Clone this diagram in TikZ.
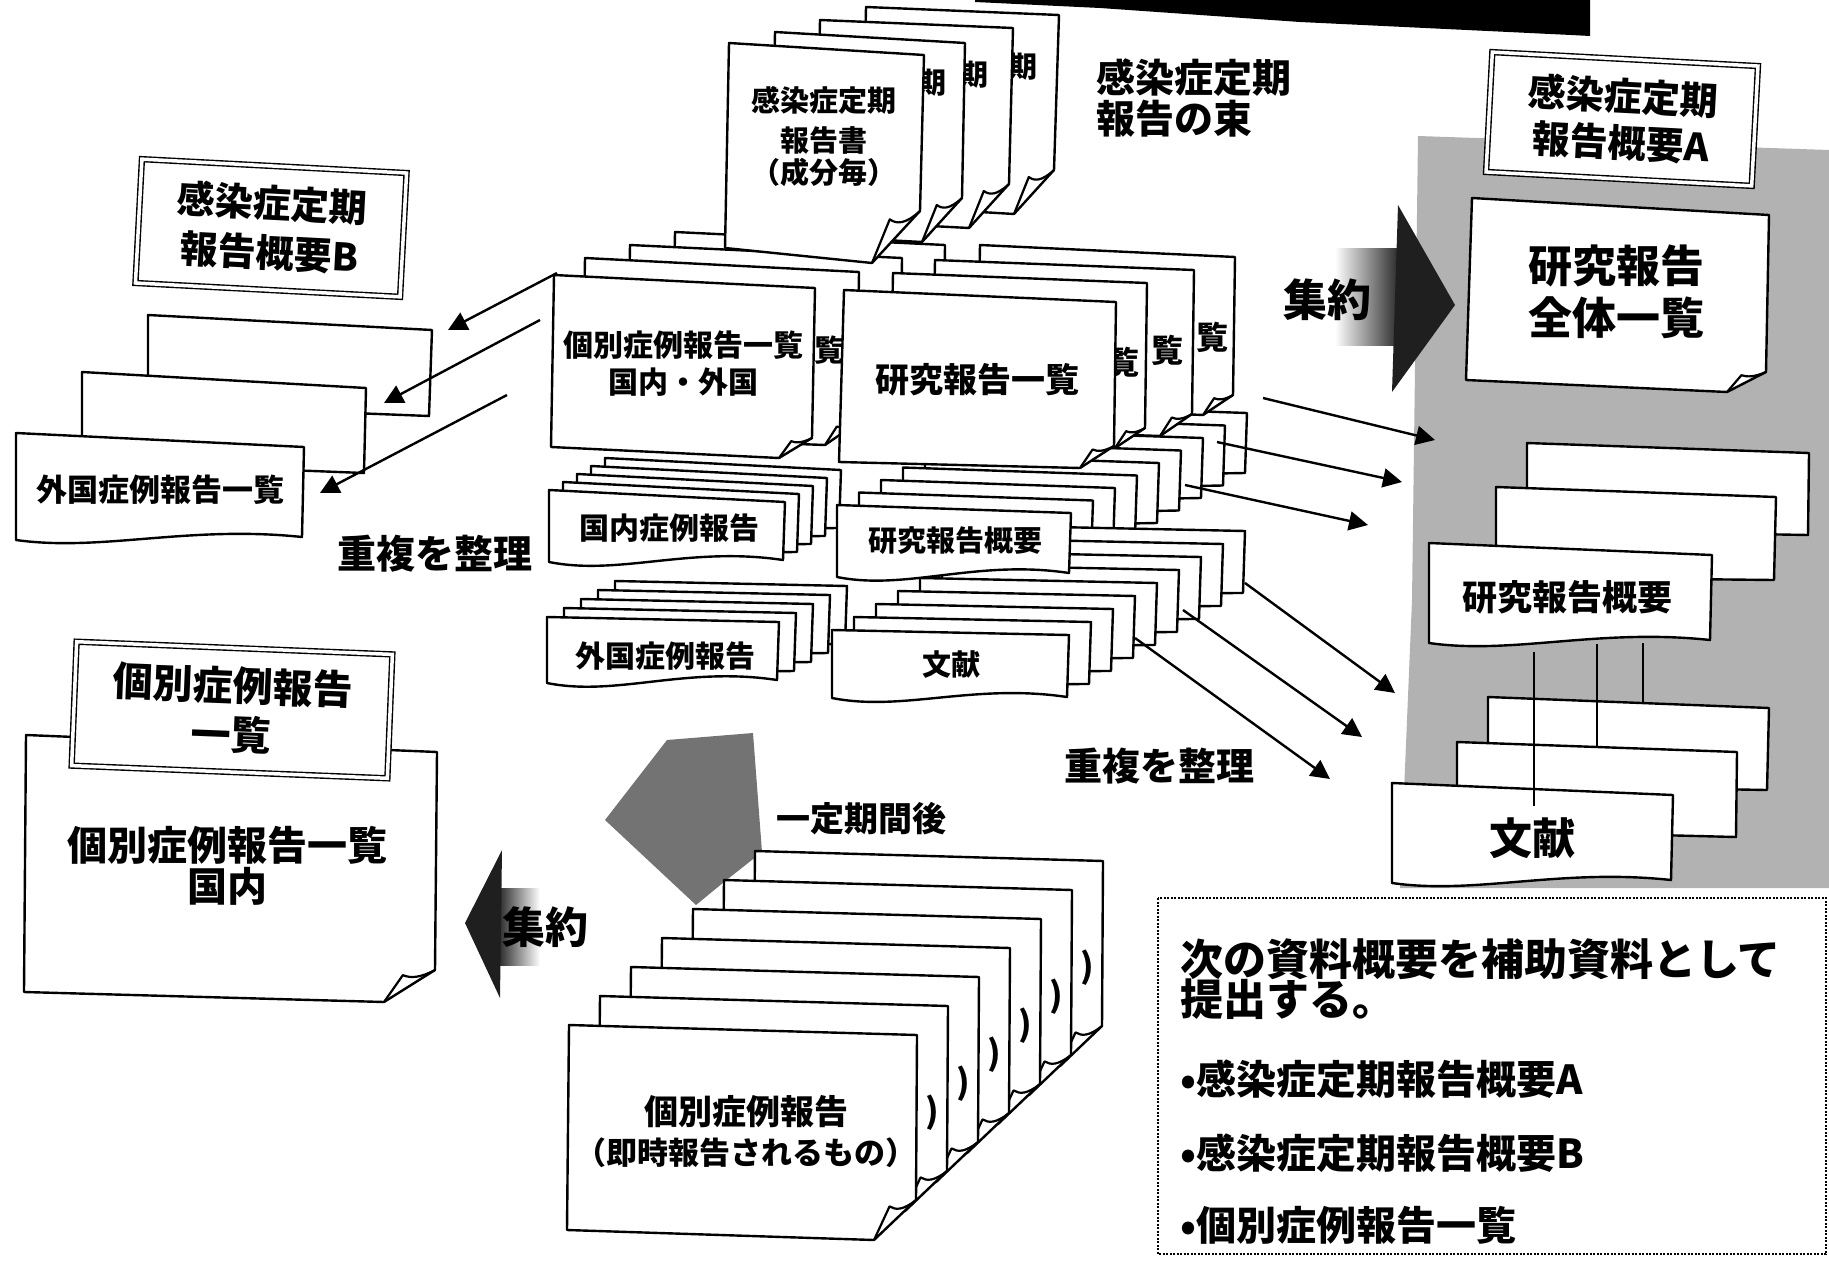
\documentclass[tikz,border=0pt]{standalone}
\usepackage{fontspec}
\setmainfont{Noto Sans CJK JP}
\usetikzlibrary{arrows.meta,calc}
\tikzset{
 pg/.style={draw=black,fill=white,line width=2.4pt,line join=round},
 flap/.style={draw=black,line width=2.2pt,line join=round},
 arr/.style={line width=2.4pt,-{Triangle[length=19pt,width=19pt]}},
 lbl/.style={font=\bfseries\fontsize{#1pt}{#1pt}\selectfont,inner sep=0pt},
 dbox/.style={draw=black,line width=1.4pt,double=white,double distance=3.5pt,fill=white,inner sep=0pt,align=center},
}
\newcommand{\dogpage}[6]{%
 \path (#3) ++(0,-#6) coordinate (dpa);
 \path (#3) ++(-#5,0) coordinate (dpb);
 \path (#3) ++(-0.63*#5,-0.84*#6) coordinate (dpq);
 \filldraw[pg] (#1) -- (#2) -- (dpa) -- (dpb) -- (#4) -- cycle;
 \draw[flap] (dpa) .. controls +(-0.3*#5,0.25*#6) and +(0.15*#5,0.1*#6) .. (dpq) -- (dpb);}
\newcommand{\wavepage}[6]{%
 \filldraw[pg] (#1) -- (#2) -- (#3) .. controls +(-0.4*#5,-#6) and +(0.3*#5,#6) .. (#4) -- cycle;}
\newcommand{\quadpage}[4]{\filldraw[pg] (#1) -- (#2) -- (#3) -- (#4) -- cycle;}
\begin{document}
\begin{tikzpicture}[x=1pt,y=-1pt]
\useasboundingbox (0,0) rectangle (1829,1266);
% grey background of A
\fill[black!30] (1418,136) -- (1829,150) -- (1829,888) -- (1400,888) -- (1412,600) -- cycle;
% top black bar
\fill[black] (975,0) -- (1590,0) -- (1590,36) -- (1571,35) -- (1300,22) -- (1100,8) -- (975,2) -- cycle;
% hatched arrow
\fill[black!55] (605,820) -- (667,740) -- (753,733) -- (762,852) -- (724,882) -- (696,905) -- cycle;

% ---- small stacks ----
\foreach \k in {4,3,2,1}{\begin{scope}[shift={(14*\k,-8*\k)}]
 \quadpage{549,490}{785,502}{783,560}{549,562}\end{scope}}
\wavepage{549,490}{785,502}{783,560}{549,562}{234}{14}
\node[lbl=30] (kokunai) at (669,528) {国内症例報告};

\foreach \k in {4,3,2,1}{\begin{scope}[shift={(17*\k,-9*\k)}]
 \quadpage{547,617}{779,622}{777,680}{547,683}\end{scope}}
\wavepage{547,617}{779,622}{777,680}{547,683}{230}{14}
\node[lbl=30] (gaikoku) at (665,656) {外国症例報告};

\foreach \k in {8,7,...,1}{\begin{scope}[shift={(22*\k,-12.5*\k)}]
 \quadpage{837,505}{1071,513}{1069,573}{837,577}\end{scope}}
\foreach \k in {8,7,...,1}{\begin{scope}[shift={(22*\k,-13*\k)}]
 \quadpage{832,630}{1069,635}{1067,697}{832,698}\end{scope}}
\wavepage{837,505}{1071,513}{1069,573}{837,577}{232}{14}
\node[lbl=29] (kgaiyo) at (955,541) {研究報告概要};
\wavepage{832,630}{1069,635}{1067,697}{832,698}{235}{14}
\node[lbl=29] (bunken) at (951,665) {文献};

% ---- big stacks: back pages ----
\dogpage{675,232}{945,245}{943,420}{672,410}{32}{22}
\dogpage{630,245}{902,258}{900,432}{627,423}{32}{22}
\dogpage{585,258}{859,272}{857,445}{582,436}{32}{22}
\node[lbl=30] (kbk1) at (829,350) {覧};
\dogpage{980,245}{1235,257}{1233,415}{977,405}{30}{20}
\node[lbl=32] (kk3) at (1212,337) {覧};
\dogpage{935,260}{1194,270}{1192,436}{932,428}{32}{22}
\node[lbl=32] (kk2) at (1167,350) {覧};
\dogpage{893,273}{1147,283}{1145,448}{890,440}{30}{20}
\node[lbl=32] (kk1) at (1123,362) {覧};

% ---- infection report bundle ----
\dogpage{866,7}{1059,15}{1054,214}{862,205}{40}{44}
\node[lbl=29] (ks4) at (1023,67) {期};
\dogpage{820,20}{1013,28}{1009,228}{816,220}{40}{44}
\node[lbl=29] (ks3) at (974,75) {期};
\dogpage{775,32}{965,43}{962,242}{771,234}{40}{44}
\node[lbl=29] (ks2) at (932,83) {期};
\dogpage{729,43}{924,55}{920,263}{725,248}{48}{52}
\node[lbl=29] (ks1a) at (824,100) {感染症定期};
\node[lbl=29] (ks1b) at (824,140) {報告書};
\node[lbl=29] (ks1c) at (824,172) {（成分毎）};
\node[lbl=39,anchor=west] (tabA) at (1096,78) {感染症定期};
\node[lbl=39,anchor=west] (tabB) at (1096,119) {報告の束};

% ---- big stacks: front pages ----
\dogpage{554,275}{815,288}{812,458}{551,447}{33}{20}
\node[lbl=30] (kbA) at (683,345) {個別症例報告一覧};
\node[lbl=30] (kbB) at (683,382) {国内・外国};
\dogpage{844,290}{1116,302}{1114,468}{839,462}{34}{22}
\node[lbl=34] (kkA) at (977,380) {研究報告一覧};

% ---- B summary ----
\node[dbox,minimum width=265pt,minimum height=124pt,rotate=-3,font=\bfseries\fontsize{38pt}{50pt}\selectfont] (boxB) at (271,228) {感染症定期\\報告概要B};
\quadpage{148,315}{432,330}{429,416}{148,405}
\quadpage{82,372}{366,388}{364,473}{82,462}
\wavepage{16,433}{304,447}{302,537}{16,540}{286}{12}
\node[lbl=31] (gkl) at (160,490) {外国症例報告一覧};
\node[lbl=39] (choufuku1) at (435,554) {重複を整理};

% arrows to B
\coordinate (a1s) at (557,273); \coordinate (a1e) at (448,330);
\coordinate (a2s) at (540,320); \coordinate (a2e) at (384,403);
\coordinate (a3s) at (507,395); \coordinate (a3e) at (320,493);
\draw[arr] (a1s) -- (a1e);
\draw[arr] (a2s) -- (a2e);
\draw[arr] (a3s) -- (a3e);

% ---- A summary ----
\node[dbox,minimum width=266pt,minimum height=120pt,rotate=-3,font=\bfseries\fontsize{38pt}{47pt}\selectfont] (boxA) at (1622,119) {感染症定期\\報告概要A};
\dogpage{1472,198}{1769,215}{1766,392}{1466,380}{39}{20}
\node[lbl=44] (zenA) at (1616,266) {研究報告};
\node[lbl=44] (zenB) at (1616,318) {全体一覧};
\quadpage{1527,443}{1809,453}{1808,535}{1527,530}
\quadpage{1496,487}{1776,497}{1774,580}{1496,577}
\wavepage{1429,543}{1712,555}{1710,640}{1429,643}{281}{12}
\node[lbl=35] (agaiyo) at (1567,597) {研究報告概要};
\quadpage{1488,697}{1769,708}{1767,790}{1488,785}
\quadpage{1457,742}{1737,752}{1736,837}{1457,830}
\wavepage{1392,783}{1673,795}{1671,880}{1392,883}{279}{12}
\node[lbl=43] (abunken) at (1532,838) {文献};
\coordinate (l1s) at (1534,652); \coordinate (l1e) at (1534,806);
\coordinate (l2s) at (1597,644); \coordinate (l2e) at (1597,746);
\coordinate (l3s) at (1643,643); \coordinate (l3e) at (1643,703);
\draw[line width=2pt] (l1s) -- (l1e);
\draw[line width=2pt] (l2s) -- (l2e);
\draw[line width=2pt] (l3s) -- (l3e);

% right shuyaku arrow
\shade[left color=white,right color=black!85] (1335,248) rectangle (1400,345);
\fill[black!88] (1398,205) -- (1455,305) -- (1392,392) -- cycle;
\node[lbl=44] (shuyakuR) at (1327,300) {集約};

% arrows to A
\coordinate (r1s) at (1263,398); \coordinate (r1e) at (1435,440);
\coordinate (r2s) at (1217,442); \coordinate (r2e) at (1402,482);
\coordinate (r3s) at (1185,485); \coordinate (r3e) at (1368,525);
\coordinate (r4s) at (1245,583); \coordinate (r4e) at (1395,693);
\coordinate (r5s) at (1183,610); \coordinate (r5e) at (1362,737);
\coordinate (r6s) at (1135,638); \coordinate (r6e) at (1330,779);
\foreach \i in {1,...,6}{\draw[arr] (r\i s) -- (r\i e);}
\node[lbl=38] (choufuku2) at (1159,766) {重複を整理};

% ---- left list ----
\dogpage{26,735}{437,752}{435,1002}{24,992}{51}{32}
\node[lbl=40] (lpA) at (227,845) {個別症例報告一覧};
\node[lbl=40] (lpB) at (227,886) {国内};
\node[dbox,minimum width=316pt,minimum height=124pt,rotate=-2.3,font=\bfseries\fontsize{40pt}{49pt}\selectfont] (boxK) at (232,710) {個別症例報告\\一覧};

% left shuyaku arrow
\shade[left color=black!85,right color=white] (498,888) rectangle (540,965);
\fill[black!88] (465,923) -- (502,850) -- (500,998) -- cycle;
\node[lbl=43] (shuyakuL) at (545,927) {集約};

% ---- bottom stack ----
\foreach \k in {6,5,...,1}{\begin{scope}[shift={(31*\k,-29*\k)}]
 \dogpage{569,1025}{917,1035}{916,1240}{567,1230}{42}{40}
 \node[lbl=34] (bp\k) at (901,1142) {)};
 \end{scope}}
\dogpage{569,1025}{917,1035}{916,1240}{567,1230}{42}{40}
\node[lbl=34] (bpA) at (746,1112) {個別症例報告};
\node[lbl=31] (bpB) at (746,1153) {（即時報告されるもの）};
\node[lbl=34] (itei) at (861,819) {一定期間後};

% ---- note box ----
\draw[line width=1.6pt,dash pattern=on 2pt off 1.5pt] (1158,898) rectangle (1826,1254);
\node[lbl=43,anchor=west] (n1) at (1180,959) {次の資料概要を補助資料として};
\node[lbl=43,anchor=west] (n2) at (1180,999) {提出する。};
\node[lbl=40,anchor=west] (n3) at (1180,1079) {•感染症定期報告概要A};
\node[lbl=40,anchor=west] (n4) at (1180,1153) {•感染症定期報告概要B};
\node[lbl=40,anchor=west] (n5) at (1180,1225) {•個別症例報告一覧};
\end{tikzpicture}
\end{document}
